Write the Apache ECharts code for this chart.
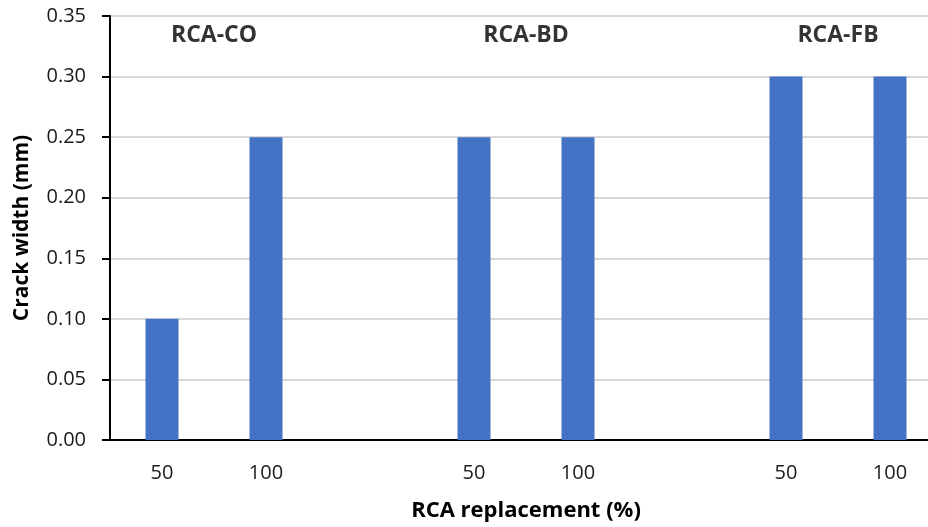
<!DOCTYPE html>
<html><head><meta charset="utf-8">
<script src="https://cdn.jsdelivr.net/npm/echarts@6/dist/echarts.min.js"></script>
<style>html,body{margin:0;padding:0;background:#fff}#c{width:928px;height:527px}</style>
</head><body><div id="c"></div>
<script>
const categories = ['50', '100', '', '50', '100', '', '50', '100'];
const crackWidth = [0.10, 0.25, null, 0.25, 0.25, null, 0.30, 0.30];
const groupNames = ['RCA-CO', 'RCA-BD', 'RCA-FB'];
const groupPos = [0.5, 3.5, 6.5];
const groupLabelY = 0.334;
const yTicks = [0, 0.05, 0.10, 0.15, 0.20, 0.25, 0.30, 0.35];

const FONT = 'Open Sans';
const chart = echarts.init(document.getElementById('c'));
chart.setOption({
  animation: false,
  backgroundColor: '#fff',
  grid: { left: 110, top: 16, width: 832, height: 424, containLabel: false, outerBoundsMode: 'none' },
  xAxis: [{
    type: 'category', data: categories, boundaryGap: true,
    axisLine: { lineStyle: { color: '#000', width: 2 } },
    axisTick: { show: false },
    axisLabel: { color: '#1a1a1a', fontFamily: FONT, fontSize: 20, margin: 23 },
    name: 'RCA replacement (%)', nameLocation: 'middle', nameGap: 60,
    nameTextStyle: { color: '#000', fontFamily: FONT, fontSize: 22, fontWeight: 'bold' },
    splitLine: { show: false }
  }, {
    type: 'value', min: -0.5, max: 7.5, show: false
  }],
  yAxis: {
    type: 'value', min: 0, max: 0.35, interval: 0.05,
    axisLine: { show: true, onZero: false, lineStyle: { color: '#000', width: 2 } },
    axisTick: { show: true, length: 8, lineStyle: { color: '#000', width: 2 } },
    axisLabel: { color: '#1a1a1a', fontFamily: FONT, fontSize: 20, margin: 24,
      formatter: v => v.toFixed(2) },
    splitLine: { lineStyle: { color: '#d9d9d9', width: 2 } },
    name: 'Crack width (mm)', nameLocation: 'middle', nameGap: 77, nameRotate: 90,
    nameTextStyle: { color: '#000', fontFamily: FONT, fontSize: 21, fontWeight: 'bold' }
  },
  series: [{
    type: 'bar', data: crackWidth, barWidth: 33,
    itemStyle: { color: '#4472c4' }, xAxisIndex: 0
  }, {
    type: 'scatter', xAxisIndex: 1, symbolSize: 0, silent: true,
    data: groupNames.map((n, i) => [groupPos[i], groupLabelY, n]),
    label: { show: true, position: 'inside', formatter: p => p.data[2],
      color: '#000', fontFamily: FONT, fontSize: 23, fontWeight: 'bold' }
  }]
});
</script></body></html>
